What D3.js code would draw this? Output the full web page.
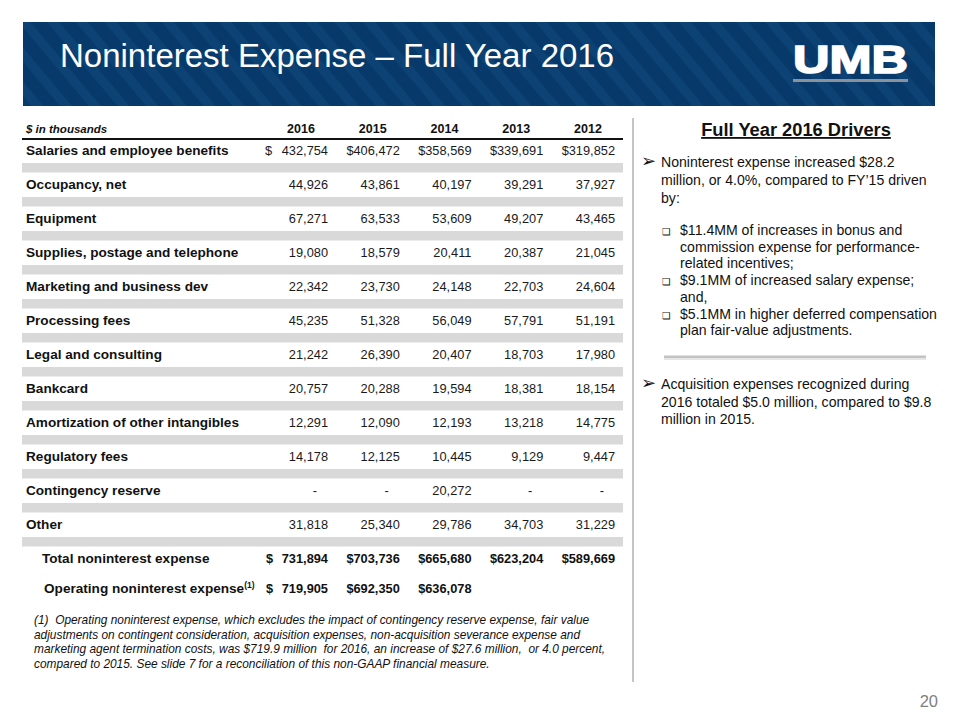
<!DOCTYPE html>
<html>
<head>
<meta charset="utf-8">
<script src="https://cdn.jsdelivr.net/npm/d3@7"></script>
<style>
  html, body { margin: 0; padding: 0; background: #fff; }
  svg { display: block; font-family: "Liberation Sans", Arial, sans-serif; }
  .pre { white-space: pre; }
</style>
</head>
<body>
<svg id="chart" width="960" height="720"></svg>
<script>
// ---------- DATA ----------
const title = "Noninterest Expense \u2013 Full Year 2016";
const years = ["2016", "2015", "2014", "2013", "2012"];
const categories = [
  "Salaries and employee benefits",
  "Occupancy, net",
  "Equipment",
  "Supplies, postage and telephone",
  "Marketing and business dev",
  "Processing fees",
  "Legal and consulting",
  "Bankcard",
  "Amortization of other intangibles",
  "Regulatory fees",
  "Contingency reserve",
  "Other"
];
const v2016 = [432754, 44926, 67271, 19080, 22342, 45235, 21242, 20757, 12291, 14178, null, 31818];
const v2015 = [406472, 43861, 63533, 18579, 23730, 51328, 26390, 20288, 12090, 12125, null, 25340];
const v2014 = [358569, 40197, 53609, 20411, 24148, 56049, 20407, 19594, 12193, 10445, 20272, 29786];
const v2013 = [339691, 39291, 49207, 20387, 22703, 57791, 18703, 18381, 13218, 9129, null, 34703];
const v2012 = [319852, 37927, 43465, 21045, 24604, 51191, 17980, 18154, 14775, 9447, null, 31229];
const totalLabel = "Total noninterest expense";
const totals = [731894, 703736, 665680, 623204, 589669];
const operatingLabel = "Operating noninterest expense";
const operating = [719905, 692350, 636078, null, null];
const unitLabel = "$ in thousands";
const footnote = [
  "(1)  Operating noninterest expense, which excludes the impact of contingency reserve expense, fair value",
  "adjustments on contingent consideration, acquisition expenses, non-acquisition severance expense and",
  "marketing agent termination costs, was $719.9 million  for 2016, an increase of $27.6 million,  or 4.0 percent,",
  "compared to 2015. See slide 7 for a reconciliation of this non-GAAP financial measure."
];
const driversTitle = "Full Year 2016 Drivers";
const bullet1 = ["Noninterest expense increased $28.2", "million, or 4.0%, compared to FY\u201915 driven", "by:"];
const subBullets = [
  ["$11.4MM of increases in bonus and", "commission expense for performance-", "related incentives;"],
  ["$9.1MM of increased salary expense;", "and,"],
  ["$5.1MM in higher deferred compensation", "plan fair-value adjustments."]
];
const bullet2 = ["Acquisition expenses recognized during", "2016 totaled $5.0 million, compared to $9.8", "million in 2015."];
const pageNumber = "20";

// ---------- DRAW ----------
const series = [v2016, v2015, v2014, v2013, v2012];
const svg = d3.select("#chart");
const fmt = d3.format(",");
const defs = svg.append("defs");

// header band with subtle diagonal stripes
const pat = defs.append("pattern").attr("id", "stripes").attr("patternUnits", "userSpaceOnUse")
  .attr("width", 22).attr("height", 22).attr("patternTransform", "rotate(-40)");
pat.append("rect").attr("width", 22).attr("height", 22).attr("fill", "#073a6b");
pat.append("rect").attr("x", 0).attr("width", 9).attr("height", 22).attr("fill", "#0d4374");

svg.append("rect").attr("x", 23).attr("y", 22).attr("width", 912).attr("height", 84).attr("fill", "url(#stripes)");
svg.append("text").attr("x", 60).attr("y", 67).attr("fill", "#fff")
  .attr("font-size", 33).text(title);

// UMB logo
svg.append("text").attr("x", 793).attr("y", 73).attr("fill", "#fff")
  .attr("font-size", 39).attr("font-weight", 900).attr("stroke", "#fff").attr("stroke-width", 1.6)
  .attr("textLength", 115).attr("lengthAdjust", "spacingAndGlyphs").text("UMB");
svg.append("rect").attr("x", 793).attr("y", 79).attr("width", 115).attr("height", 3).attr("fill", "#8c929c");

// Table scales
const x = d3.scalePoint().domain(years).range([328, 615]);
const y = d3.scalePoint().domain(categories).range([155, 529]);
const tableLeft = 22, tableRight = 623;

// header
svg.append("text").attr("x", 26).attr("y", 133).attr("font-size", 11.5).attr("font-weight", "bold")
  .attr("font-style", "italic").attr("fill", "#111").text(unitLabel);
svg.selectAll("text.year").data(years).join("text").attr("class", "year")
  .attr("x", d => x(d) - 27).attr("y", 133).attr("text-anchor", "middle")
  .attr("font-size", 12.5).attr("font-weight", "bold").attr("fill", "#111").text(d => d);
svg.append("line").attr("x1", tableLeft).attr("x2", tableRight).attr("y1", 139).attr("y2", 139)
  .attr("stroke", "#111").attr("stroke-width", 2.2);

// grey separator bands
svg.selectAll("rect.band").data(categories).join("rect").attr("class", "band")
  .attr("x", tableLeft).attr("width", tableRight - tableLeft)
  .attr("y", d => y(d) + 8).attr("height", 9.5).attr("fill", "#d9d9d9");

// labels
svg.selectAll("text.cat").data(categories).join("text").attr("class", "cat")
  .attr("x", 26).attr("y", d => y(d)).attr("font-size", 13.6).attr("font-weight", "bold")
  .attr("fill", "#111").text(d => d);

// values
years.forEach((yr, j) => {
  const vals = series[j];
  const g = svg.append("g");
  g.selectAll("text").data(categories).join("text")
    .attr("x", (d, i) => vals[i] == null ? x(yr) - 11 : x(yr))
    .attr("y", d => y(d)).attr("text-anchor", "end").attr("font-size", 12.8).attr("fill", "#1a1a1a")
    .text((d, i) => {
      const v = vals[i];
      if (v == null) return "-";
      if (i === 0 && j > 0) return "$" + fmt(v);
      return fmt(v);
    });
});
// leading $ for 2016 first row
svg.append("text").attr("x", 265).attr("y", y(categories[0])).attr("font-size", 12.8).attr("fill", "#1a1a1a").text("$");

// totals
const totalY = 563, opY = 593;
svg.append("text").attr("x", 42).attr("y", totalY).attr("font-size", 13.6).attr("font-weight", "bold")
  .attr("fill", "#111").text(totalLabel);
const opLabel = svg.append("text").attr("x", 44).attr("y", opY).attr("font-size", 13.6).attr("font-weight", "bold")
  .attr("fill", "#111");
opLabel.append("tspan").text(operatingLabel);
opLabel.append("tspan").attr("font-size", 8.5).attr("dy", -5).text("(1)");

[[totals, totalY], [operating, opY]].forEach(([arr, yy]) => {
  svg.append("g").selectAll("text").data(years).join("text")
    .attr("x", d => x(d)).attr("y", yy).attr("text-anchor", "end")
    .attr("font-size", 12.8).attr("font-weight", "bold").attr("fill", "#111")
    .text((d, j) => arr[j] == null ? "" : (j === 0 ? fmt(arr[j]) : "$" + fmt(arr[j])));
  svg.append("text").attr("x", 266).attr("y", yy).attr("font-size", 12.8).attr("font-weight", "bold")
    .attr("fill", "#111").text("$");
});

// footnote
svg.append("g").selectAll("text").data(footnote).join("text").attr("class", "pre")
  .attr("x", 34).attr("y", (d, i) => 624 + i * 14.5).attr("font-size", 11.9).attr("font-style", "italic")
  .attr("fill", "#111").text(d => d);

// vertical divider
svg.append("line").attr("x1", 633).attr("x2", 633).attr("y1", 118).attr("y2", 682)
  .attr("stroke", "#c4c4c4").attr("stroke-width", 2);

// right panel
svg.append("text").attr("x", 796).attr("y", 136).attr("text-anchor", "middle")
  .attr("font-size", 18.3).attr("font-weight", "bold").attr("fill", "#111")
  .attr("text-decoration", "underline").text(driversTitle);

const fs = 14.1;
function bulletBlock(lines, x0, y0, pitch, glyph, gx, gsize) {
  svg.append("text").attr("x", gx).attr("y", y0).attr("font-size", gsize).attr("fill", "#111")
    .attr("font-family", "DejaVu Sans").text(glyph);
  svg.append("g").selectAll("text").data(lines).join("text")
    .attr("x", x0).attr("y", (d, i) => y0 + i * pitch).attr("font-size", fs).attr("fill", "#111").text(d => d);
}
bulletBlock(bullet1, 661, 167, 18, "\u27A2", 641, 18);
let sy = 235;
subBullets.forEach(lines => {
  bulletBlock(lines, 680, sy, 16.7, "\u274F", 662, 9.5);
  sy += lines.length * 16.7;
});
// separator
const sepG = svg.append("g");
sepG.append("rect").attr("x", 664).attr("y", 357).attr("width", 262).attr("height", 3).attr("fill", "#e6e6e6");
sepG.append("rect").attr("x", 664).attr("y", 355.5).attr("width", 262).attr("height", 2.5).attr("fill", "#c3c3c3");
bulletBlock(bullet2, 661, 389, 17.5, "\u27A2", 641, 18);

// page number
svg.append("text").attr("x", 938).attr("y", 707).attr("text-anchor", "end").attr("font-size", 16.5)
  .attr("fill", "#808080").text(pageNumber);
</script>
</body>
</html>
